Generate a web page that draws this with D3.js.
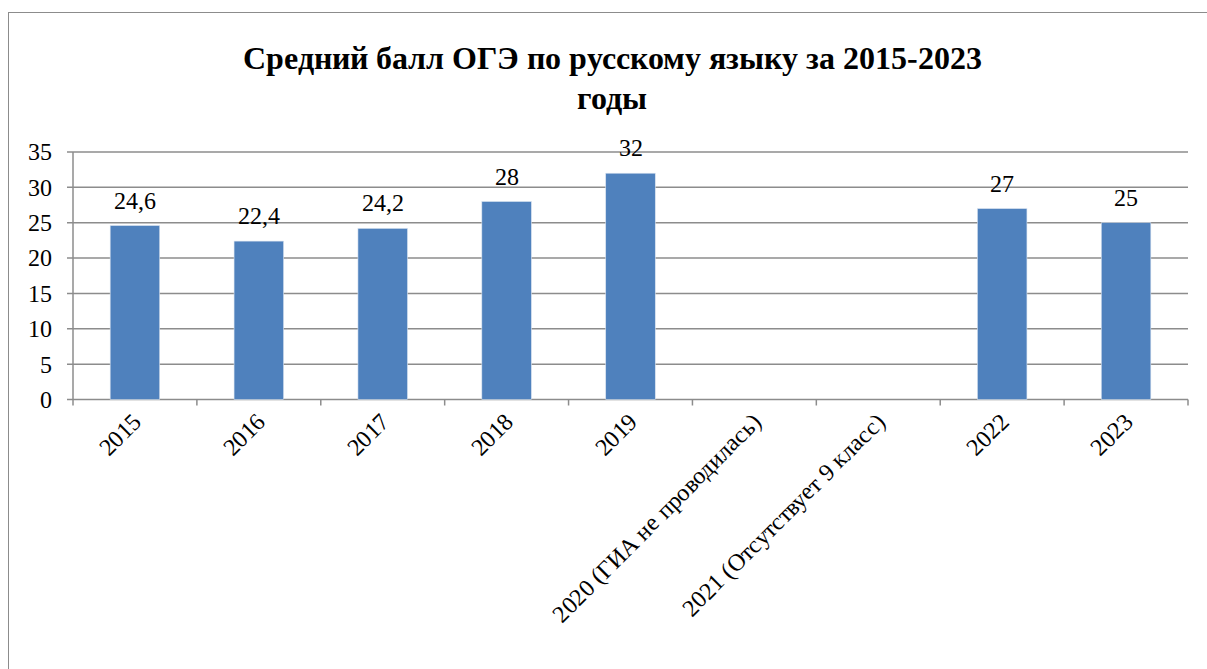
<!DOCTYPE html>
<html>
<head>
<meta charset="utf-8">
<script src="https://cdn.jsdelivr.net/npm/d3@7"></script>
<style>
    @font-face { font-family: "ChartSerif"; src: local("Liberation Serif"), local("LiberationSerif"), local("Liberation Serif Regular"), local("LiberationSerif-Regular"); font-weight: normal; }
    @font-face { font-family: "ChartSerif"; src: local("Liberation Serif Bold"), local("LiberationSerif-Bold"); font-weight: bold; }
</style>
</head>
<body style="margin:0">
<script>
const categories = ["2015", "2016", "2017", "2018", "2019",
    "2020 (ГИА не проводилась)", "2021 (Отсутствует 9 класс)", "2022", "2023"];
const values = [24.6, 22.4, 24.2, 28, 32, null, null, 27, 25];
const valueLabels = ["24,6", "22,4", "24,2", "28", "32", "", "", "27", "25"];
const yTicks = [0, 5, 10, 15, 20, 25, 30, 35];
const titleLines = ["Средний балл ОГЭ по русскому языку за 2015-2023", "годы"];
const fonts = ["ChartSerif", "Liberation Serif", "Times New Roman", "Tinos"];

const width = 1207;
const height = 669;
const margin = {top: 152, right: 19, left: 73};
const plotBottom = 399.5;
const family = fonts.map(f => `"${f}"`).join(", ") + ", serif";

const svg = d3.select("body")
    .append("svg")
    .attr("width", width)
    .attr("height", height);

// рамка диаграммы
svg.append("rect")
    .attr("x", 8.5)
    .attr("y", 12.5)
    .attr("width", 1220)
    .attr("height", 700)
    .attr("fill", "none")
    .attr("stroke", "#8c8c8c")
    .attr("stroke-width", 1);

function addText(sel) {
    return sel.enter().append("text")
        .attr("font-family", family)
        .style("font-family", family);
}

addText(svg.selectAll(null).data(titleLines))
    .attr("x", 612)
    .attr("y", (d, i) => 69 + i * 40)
    .attr("text-anchor", "middle")
    .style("font-size", "32px")
    .style("font-weight", "bold")
    .text(d => d);

const x = d3.scaleBand()
    .domain(categories)
    .range([margin.left, width - margin.right])
    .paddingInner(0.6)
    .paddingOuter(0.3);

const y = d3.scaleLinear()
    .domain([0, 35])
    .range([plotBottom, margin.top]);

// сетка
svg.selectAll(null)
    .data(yTicks)
    .enter().append("line")
    .attr("x1", margin.left - 6)
    .attr("x2", width - margin.right)
    .attr("y1", d => y(d))
    .attr("y2", d => y(d))
    .attr("stroke", "#8c8c8c")
    .attr("stroke-width", 1.5);

addText(svg.selectAll(null).data(yTicks))
    .attr("x", 52)
    .attr("y", d => y(d))
    .attr("dy", "0.35em")
    .attr("text-anchor", "end")
    .style("font-size", "24px")
    .text(d => d);

// вертикальная ось
svg.append("line")
    .attr("x1", margin.left)
    .attr("x2", margin.left)
    .attr("y1", margin.top)
    .attr("y2", plotBottom)
    .attr("stroke", "#8c8c8c")
    .attr("stroke-width", 1.5);

// деления по оси X на границах категорий
const step = x.step();
const bounds = d3.range(categories.length + 1).map(i => margin.left + i * step);
svg.selectAll(null)
    .data(bounds)
    .enter().append("line")
    .attr("x1", d => d)
    .attr("x2", d => d)
    .attr("y1", plotBottom)
    .attr("y2", plotBottom + 6)
    .attr("stroke", "#8c8c8c")
    .attr("stroke-width", 1.5);

const data = categories.map((c, i) => ({cat: c, value: values[i], label: valueLabels[i]}))
    .filter(d => d.value !== null);

svg.selectAll(null)
    .data(data)
    .enter().append("rect")
    .attr("x", d => x(d.cat))
    .attr("y", d => y(d.value))
    .attr("width", x.bandwidth())
    .attr("height", d => plotBottom - y(d.value))
    .attr("fill", "#4f81bd")
    .attr("stroke", "#dbe4f0")
    .attr("stroke-width", 0.6);

addText(svg.selectAll(null).data(data))
    .attr("x", d => x(d.cat) + x.bandwidth() / 2)
    .attr("y", d => y(d.value) - 17)
    .attr("text-anchor", "middle")
    .style("font-size", "24px")
    .text(d => d.label);

addText(svg.selectAll(null).data(categories))
    .attr("transform", d => `translate(${x(d) + x.bandwidth() / 2 + 8},${plotBottom + 24}) rotate(-45)`)
    .attr("text-anchor", "end")
    .style("font-size", "24px")
    .text(d => d);
</script>
</body>
</html>
